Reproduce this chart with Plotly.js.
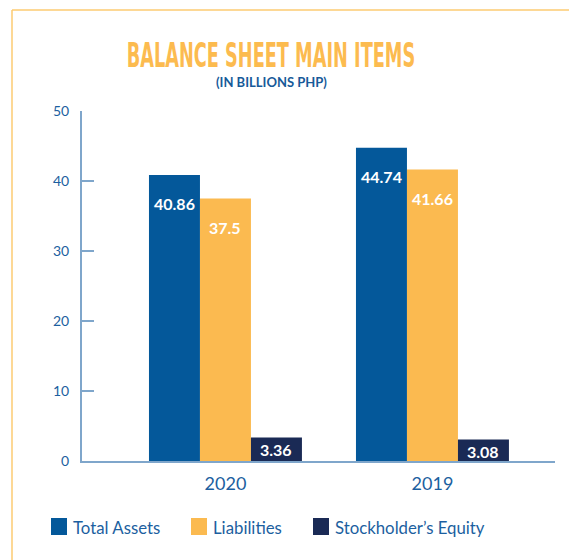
<!DOCTYPE html>
<html>
<head>
<meta charset="utf-8">
<script src="https://cdn.plot.ly/plotly-3.0.1.min.js"></script>
<style>html,body{margin:0;padding:0;background:#fff;}#chart{width:569px;height:560px;}</style>
</head>
<body>
<div id="chart"></div>
<script>
// ---- data ----
var years = ['2020', '2019'];
var seriesNames = ['Total Assets', 'Liabilities', 'Stockholder\u2019s Equity'];
var totalAssets = [40.86, 44.74];
var liabilities = [37.5, 41.66];
var equity = [3.36, 3.08];
var seriesColors = ['#04589A', '#FBBA50', '#1A2A55'];
var titleText = 'BALANCE SHEET MAIN ITEMS';
var subtitleText = '(IN BILLIONS PHP)';

var seriesValues = [totalAssets, liabilities, equity];
var blue = '#1C5FA0';
var axisCol = '#7FA6CB';

var traces = seriesValues.map(function (vals, i) {
  return {
    type: 'bar', name: seriesNames[i], x: years, y: vals,
    marker: {color: seriesColors[i], line: {width: 0}},
    hoverinfo: 'none', showlegend: false
  };
});

var annotations = [];
var barPx = 51;
seriesValues.forEach(function (vals, i) {
  vals.forEach(function (v, j) {
    annotations.push({
      x: j, y: v, xref: 'x', yref: 'y', text: '<b>' + String(v) + '</b>', showarrow: false,
      xshift: (i - 1) * barPx, yshift: i === 2 ? -12 : -29,
      yanchor: 'middle', xanchor: 'center',
      font: {family: 'Lato, sans-serif', size: 16, color: '#ffffff'}
    });
  });
});
annotations.push({
  text: '<b>' + subtitleText + '</b>', xref: 'paper', yref: 'paper',
  x: (271 - 82) / 473, y: (461 - 82) / 350, xanchor: 'center', yanchor: 'middle',
  showarrow: false, font: {family: 'Lato, sans-serif', size: 13, color: '#175A99'}
});

// legend (manual)
var legendBoxX = [51, 191, 313];
var shapes = [];
legendBoxX.forEach(function (px, i) {
  shapes.push({type: 'rect', xref: 'paper', yref: 'paper',
    x0: (px - 82) / 473, x1: (px + 16 - 82) / 473,
    y0: (461 - 535) / 350, y1: (461 - 518) / 350,
    fillcolor: seriesColors[i], line: {width: 0}});
  annotations.push({text: seriesNames[i], xref: 'paper', yref: 'paper',
    x: (px + 20 - 82) / 473, y: (461 - 527) / 350, xanchor: 'left', yanchor: 'middle',
    showarrow: false, font: {family: 'Lato, sans-serif', size: 16.8, color: blue}});
});
// border
var bx = (12 - 82) / 473, by = (461 - 10) / 350;
shapes.push({type: 'line', xref: 'paper', yref: 'paper', x0: bx, x1: 1.1, y0: by, y1: by,
  line: {color: '#FDCB72', width: 1.5}});
shapes.push({type: 'line', xref: 'paper', yref: 'paper', x0: bx, x1: bx, y0: by, y1: -0.35,
  line: {color: '#FDCB72', width: 1.5}});

var layout = {
  width: 569, height: 560,
  margin: {l: 82, r: 14, t: 111, b: 99},
  paper_bgcolor: '#ffffff', plot_bgcolor: '#ffffff',
  barmode: 'group', bargap: 0.261, bargroupgap: 0,
  showlegend: false,
  title: {
    text: '<b>' + titleText + '</b>', xref: 'paper', x: (271 - 82) / 473, xanchor: 'center',
    yref: 'container', y: 1 - 60 / 560, yanchor: 'middle',
    font: {family: '"Liberation Sans Narrow", "DejaVu Sans Condensed", sans-serif', size: 19.7, color: '#FCBB4F'}
  },
  xaxis: {
    type: 'category', range: [-0.693, 1.592], showline: true, linecolor: axisCol, linewidth: 2,
    ticks: '', showgrid: false, zeroline: false, ticklabelstandoff: 5,
    tickfont: {family: 'Lato, sans-serif', size: 18, color: blue}
  },
  yaxis: {
    range: [0, 50], dtick: 10, showline: true, linecolor: axisCol, linewidth: 2,
    ticks: 'inside', ticklen: 12, tickwidth: 2, tickcolor: axisCol,
    showgrid: false, zeroline: false, ticklabelstandoff: 8,
    tickfont: {family: 'Lato, sans-serif', size: 14, color: blue}
  },
  annotations: annotations,
  shapes: shapes
};

Plotly.newPlot('chart', traces, layout, {displayModeBar: false, staticPlot: true}).then(function () {
  var t = document.querySelector('.gtitle');
  if (t) {
    var k = 1.7;
    var bb = t.getBBox();
    var base = bb.y + bb.height * 0.8;
    t.setAttribute('transform', 'translate(0,' + ((1 - k) * base) + ') scale(1,' + k + ')');
  }
});
</script>
</body>
</html>
